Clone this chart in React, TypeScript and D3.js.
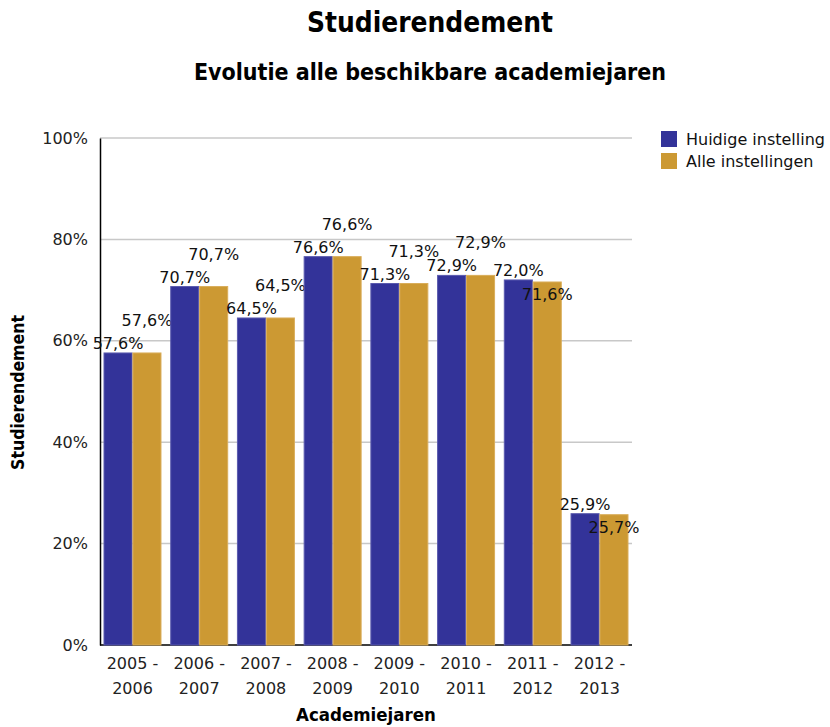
import { useEffect, useRef } from "react";
import { select, scaleLinear, scaleBand, axisLeft } from "d3";

// academiejaren (x-as) en de twee reeksen
const jaren = [
  "2005 - 2006",
  "2006 - 2007",
  "2007 - 2008",
  "2008 - 2009",
  "2009 - 2010",
  "2010 - 2011",
  "2011 - 2012",
  "2012 - 2013",
];
const huidigeInstelling = [57.6, 70.7, 64.5, 76.6, 71.3, 72.9, 72.0, 25.9];
const alleInstellingen = [57.6, 70.7, 64.5, 76.6, 71.3, 72.9, 71.6, 25.7];
const reeksNamen = ["Huidige instelling", "Alle instellingen"];
const yTicks = [0, 20, 40, 60, 80, 100];
// label van "alle instellingen" boven (true) of onder (false) de rand
const labelBoven = [true, true, true, true, true, true, false, false];

const WIDTH = 830;
const HEIGHT = 727;
const BLUE = "#333399";
const GOLD = "#cc9933";
const FONT = "'DejaVu Sans', Verdana, sans-serif";
const FONT_TITLE = "'DejaVu Sans Condensed', 'DejaVu Sans', sans-serif";

const fmt = (v: number) => v.toFixed(1).replace(".", ",") + "%";

const drawChart = (el: SVGSVGElement) => {
  const svg = select(el);
  svg.selectAll("*").remove();

  const marginLeft = 100,
    marginRight = 198,
    marginTop = 138,
    marginBottom = 82;

  const y = scaleLinear([0, 100], [HEIGHT - marginBottom, marginTop]);
  const x = scaleBand(jaren, [marginLeft, WIDTH - marginRight])
    .paddingInner(0.146)
    .paddingOuter(0.06);
  const xs = scaleBand(reeksNamen, [0, x.bandwidth()]).paddingInner(0.03);

  // titels
  svg
    .append("text")
    .text("Studierendement")
    .attr("x", 430)
    .attr("y", 32)
    .attr("text-anchor", "middle")
    .attr("font-family", FONT_TITLE)
    .attr("font-weight", "bold")
    .attr("font-size", 27.8);
  svg
    .append("text")
    .text("Evolutie alle beschikbare academiejaren")
    .attr("x", 430)
    .attr("y", 80)
    .attr("text-anchor", "middle")
    .attr("font-family", FONT_TITLE)
    .attr("font-weight", "bold")
    .attr("font-size", 23);

  // rasterlijnen
  svg
    .append("g")
    .selectAll("line")
    .data(yTicks.filter((d) => d > 0))
    .enter()
    .append("line")
    .attr("x1", marginLeft)
    .attr("x2", WIDTH - marginRight)
    .attr("y1", (d) => y(d))
    .attr("y2", (d) => y(d))
    .attr("stroke", "#c8c8c8")
    .attr("stroke-width", 1.5);

  // y-as
  const gy = svg
    .append("g")
    .attr("transform", `translate(${marginLeft},0)`)
    .call(
      axisLeft(y)
        .tickValues(yTicks)
        .tickSize(0)
        .tickPadding(12)
        .tickFormat((d) => `${d}%`)
    );
  gy.select(".domain").attr("stroke", "#000").attr("stroke-width", 1.5);
  gy.selectAll("text")
    .attr("font-family", FONT)
    .attr("font-size", 16)
    .attr("fill", "#222");

  // x-as lijn
  svg
    .append("line")
    .attr("x1", marginLeft)
    .attr("x2", WIDTH - marginRight)
    .attr("y1", y(0))
    .attr("y2", y(0))
    .attr("stroke", "#000")
    .attr("stroke-width", 1.5);

  // balken
  const groups = svg
    .append("g")
    .selectAll("g")
    .data(jaren)
    .enter()
    .append("g")
    .attr("transform", (d) => `translate(${x(d)},0)`);

  const reeksen = [huidigeInstelling, alleInstellingen];
  const kleuren = [BLUE, GOLD];
  const randen = ["#5a5aae", "#d9ad5a"];

  reeksNamen.forEach((naam, s) => {
    groups
      .append("rect")
      .attr("x", xs(naam) as number)
      .attr("width", xs.bandwidth())
      .attr("y", (d, i) => y(reeksen[s][i]))
      .attr("height", (d, i) => y(0) - y(reeksen[s][i]))
      .attr("fill", kleuren[s])
      .attr("stroke", randen[s])
      .attr("stroke-width", 1);
  });

  // labels huidige instelling
  groups
    .append("text")
    .text((d, i) => fmt(huidigeInstelling[i]))
    .attr("x", (xs(reeksNamen[0]) as number) + xs.bandwidth() / 2)
    .attr("y", (d, i) => y(huidigeInstelling[i]) - 4)
    .attr("text-anchor", "middle")
    .attr("font-family", FONT)
    .attr("font-size", 16)
    .attr("fill", "#111");

  // labels alle instellingen
  groups
    .append("text")
    .text((d, i) => fmt(alleInstellingen[i]))
    .attr("x", (xs(reeksNamen[1]) as number) + xs.bandwidth() / 2)
    .attr("y", (d, i) =>
      labelBoven[i] ? y(alleInstellingen[i]) - 27 : y(alleInstellingen[i]) + 18
    )
    .attr("text-anchor", "middle")
    .attr("font-family", FONT)
    .attr("font-size", 16)
    .attr("fill", "#111");

  // x-as labels in twee regels
  const xl = svg
    .append("g")
    .selectAll("text")
    .data(jaren)
    .enter()
    .append("text")
    .attr("text-anchor", "middle")
    .attr("font-family", FONT)
    .attr("font-size", 16)
    .attr("fill", "#222");
  xl.append("tspan")
    .attr("x", (d) => (x(d) as number) + x.bandwidth() / 2)
    .attr("y", y(0) + 24)
    .text((d) => d.split(" - ")[0] + " -");
  xl.append("tspan")
    .attr("x", (d) => (x(d) as number) + x.bandwidth() / 2)
    .attr("y", y(0) + 49)
    .text((d) => d.split(" - ")[1]);

  // as-titels
  svg
    .append("text")
    .text("Academiejaren")
    .attr("x", (marginLeft + WIDTH - marginRight) / 2)
    .attr("y", 721)
    .attr("text-anchor", "middle")
    .attr("font-family", FONT_TITLE)
    .attr("font-weight", "bold")
    .attr("font-size", 18.5);
  svg
    .append("text")
    .text("Studierendement")
    .attr("transform", `translate(24,${y(50) + 1}) rotate(-90)`)
    .attr("text-anchor", "middle")
    .attr("font-family", FONT_TITLE)
    .attr("font-weight", "bold")
    .attr("font-size", 17.5);

  // legenda
  const legend = svg
    .append("g")
    .selectAll("g")
    .data(reeksNamen)
    .enter()
    .append("g")
    .attr("transform", (d, i) => `translate(661,${131 + i * 22})`);
  legend
    .append("rect")
    .attr("width", 16)
    .attr("height", 16)
    .attr("fill", (d, i) => kleuren[i]);
  legend
    .append("text")
    .text((d) => d)
    .attr("x", 25)
    .attr("y", 14)
    .attr("font-family", FONT)
    .attr("font-size", 16)
    .attr("fill", "#111");
};

const App = () => {
  const ref = useRef<SVGSVGElement>(null);
  useEffect(() => {
    if (ref.current) drawChart(ref.current);
  }, []);
  return (
    <div style={{ position: "absolute", left: 0, top: 0, background: "#fff" }}>
      <svg ref={ref} width={WIDTH} height={HEIGHT} />
    </div>
  );
};

export default App;
